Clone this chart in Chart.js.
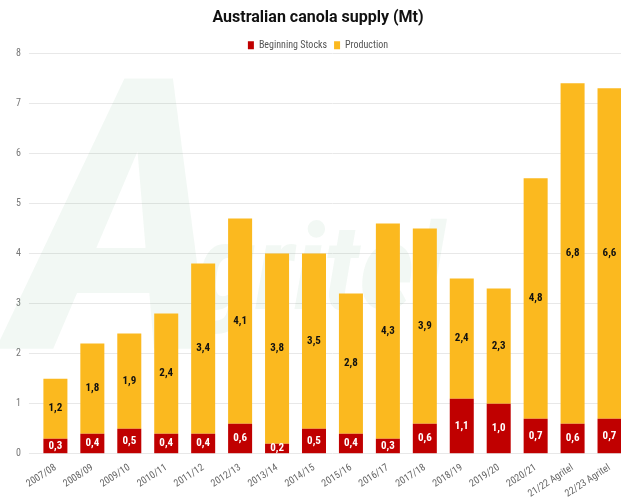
<!DOCTYPE html>
<html>
<head>
<meta charset="utf-8">
<script src="https://cdn.jsdelivr.net/npm/chart.js@4/dist/chart.umd.min.js"></script>
<style>
  html, body { margin: 0; padding: 0; background: #fff; overflow: hidden; }
  #wrap { width: 628px; height: 504px; }
</style>
</head>
<body>
<div id="wrap"><canvas id="supplyChart"></canvas></div>
<script>
const seasons = ['2007/08', '2008/09', '2009/10', '2010/11', '2011/12', '2012/13', '2013/14', '2014/15',
  '2015/16', '2016/17', '2017/18', '2018/19', '2019/20', '2020/21', '21/22 Agritel', '22/23 Agritel'];
const beginningStocks = [0.3, 0.4, 0.5, 0.4, 0.4, 0.6, 0.2, 0.5, 0.4, 0.3, 0.6, 1.1, 1.0, 0.7, 0.6, 0.7];
const production = [1.2, 1.8, 1.9, 2.4, 3.4, 4.1, 3.8, 3.5, 2.8, 4.3, 3.9, 2.4, 2.3, 4.8, 6.8, 6.6];
const yTicks = [0, 1, 2, 3, 4, 5, 6, 7, 8];

const FONT = '"Roboto Condensed", "Liberation Sans Narrow", "Roboto", sans-serif';

// faint logo behind the plot
const watermark = {
  id: 'watermark',
  beforeDatasetsDraw(chart) {
    const { ctx, chartArea } = chart;
    ctx.save();
    ctx.fillStyle = 'rgba(40, 130, 70, 0.06)';
    ctx.font = 'italic bold 380px ' + FONT;
    ctx.textBaseline = 'bottom';
    ctx.fillText('A', chartArea.left - 25, chartArea.bottom - 10);
    ctx.font = 'italic bold 120px ' + FONT;
    ctx.fillText('gritel', chartArea.left + 160, chartArea.bottom - 115);
    ctx.restore();
  }
};

// legend sits close to the plot: trim the space under it
const tightLegend = {
  id: 'tightLegend',
  afterInit(chart) {
    const legend = chart.legend;
    const fit = legend.fit.bind(legend);
    legend.fit = () => { fit(); legend.height -= 7; };
  }
};

// value labels in the middle of each segment, comma decimals
const segmentLabels = {
  id: 'segmentLabels',
  afterDatasetsDraw(chart) {
    const { ctx } = chart;
    ctx.save();
    ctx.textAlign = 'center';
    ctx.textBaseline = 'middle';
    ctx.font = 'bold 11px ' + FONT;
    chart.data.datasets.forEach((ds, i) => {
      const meta = chart.getDatasetMeta(i);
      meta.data.forEach((bar, j) => {
        const v = ds.data[j];
        const y = (bar.y + bar.base) / 2;
        ctx.fillStyle = i === 0 ? '#ffffff' : '#111111';
        ctx.fillText(v.toFixed(1).replace('.', ','), bar.x, y);
      });
    });
    ctx.restore();
  }
};

new Chart(document.getElementById('supplyChart'), {
  type: 'bar',
  data: {
    labels: seasons,
    datasets: [{
      label: 'Beginning Stocks',
      data: beginningStocks,
      backgroundColor: '#c00000'
    }, {
      label: 'Production',
      data: production,
      backgroundColor: '#fbb91f'
    }]
  },
  options: {
    responsive: true,
    maintainAspectRatio: false,
    animation: false,
    layout: { padding: { left: 8, right: 0, top: 4, bottom: 4 } },
    datasets: { bar: { barPercentage: 0.65, categoryPercentage: 1 } },
    plugins: {
      title: {
        display: true,
        text: 'Australian canola supply (Mt)',
        color: '#111',
        font: { family: 'Roboto, sans-serif', size: 16, weight: 'bold' },
        padding: { top: 4, bottom: 6 }
      },
      legend: {
        labels: {
          boxWidth: 6,
          boxHeight: 8,
          color: '#555',
          font: { family: FONT, size: 10 },
          padding: 7
        }
      },
      tooltip: { enabled: false }
    },
    scales: {
      x: {
        stacked: true,
        grid: { display: false },
        border: { display: false },
        ticks: {
          color: '#666',
          font: { family: FONT, size: 10 },
          maxRotation: 33,
          minRotation: 33,
          padding: 0
        }
      },
      y: {
        stacked: true,
        min: 0,
        max: 8,
        afterBuildTicks: axis => { axis.ticks = yTicks.map(v => ({ value: v })); },
        grid: { color: '#e8e8e8' },
        border: { display: false },
        ticks: {
          color: '#777',
          font: { family: FONT, size: 10 },
          padding: 8
        }
      }
    }
  },
  plugins: [watermark, tightLegend, segmentLabels]
});
</script>
</body>
</html>
